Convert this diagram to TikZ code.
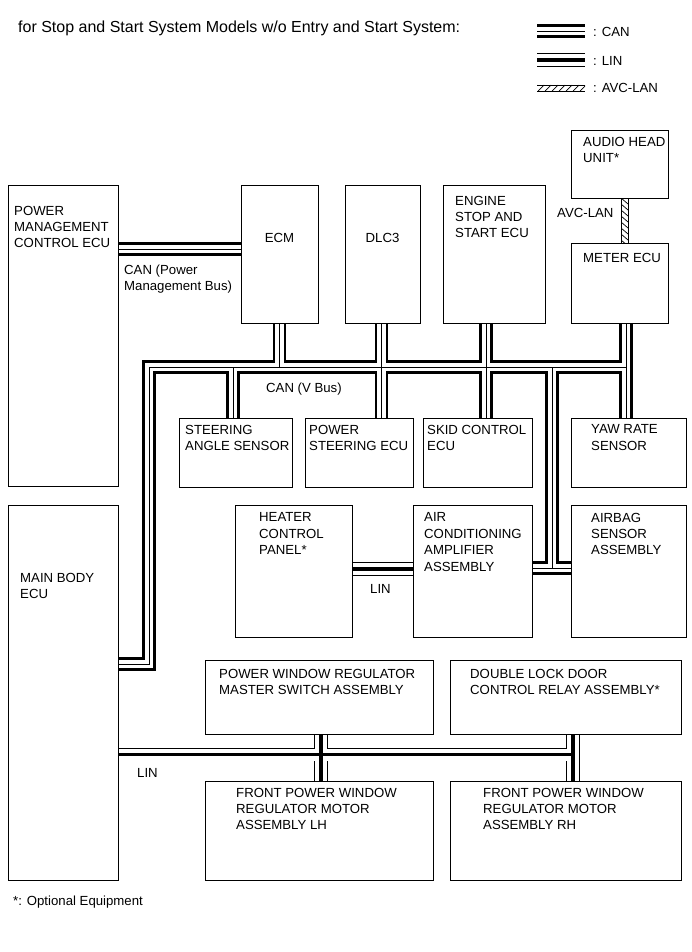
\documentclass[tikz,border=0pt]{standalone}
\usepackage{fontspec}
\setmainfont{Liberation Sans}
\usetikzlibrary{fit,backgrounds}
\newcommand\myfs{\fontsize{13.2}{16.4}\selectfont}
\newcommand\myts{\fontsize{16}{19}\selectfont}
\tikzset{
  box/.style={draw, line width=0.9pt, fill=white, inner sep=0pt},
  lbl/.style={inner sep=0pt, align=left, anchor=north west, font=\myfs, execute at begin node=\rule{0pt}{10pt}},
  clbl/.style={lbl, anchor=north, align=center},
  canA/.style={line width=13.6pt, black, line join=miter},
  canB/.style={line width=8.4pt, white, line join=miter},
  canC/.style={line width=0.8pt, black, line join=miter},
  linA/.style={line width=13.8pt, black, line join=miter},
  linB/.style={line width=12pt, white, line join=miter},
  linC/.style={line width=3.8pt, black, line join=miter},
  hatchbox/.style={draw, line width=0.8pt},
  hatchline/.style={line width=0.7pt},
}
\begin{document}
\begin{tikzpicture}[x=1pt,y=-1pt]
\useasboundingbox (0,0) rectangle (691,952);

% ---------- boxes ----------
\node[box, fit={(8,185) (118,486)}] (pmc) {};
\node[box, fit={(8,505) (118,880)}] (main) {};
\node[box, fit={(241,185) (318,323)}] (ecm) {};
\node[box, fit={(345,185) (420,323)}] (dlc) {};
\node[box, fit={(443,185) (545,323)}] (eng) {};
\node[box, fit={(571,130) (668,198)}] (audio) {};
\node[box, fit={(571,243) (668,323)}] (meter) {};
\node[box, fit={(179,418) (292,487)}] (steer) {};
\node[box, fit={(305,418) (413,487)}] (ps) {};
\node[box, fit={(423,418) (532,487)}] (skid) {};
\node[box, fit={(571,418) (686,487)}] (yaw) {};
\node[box, fit={(235,505) (352,637)}] (heater) {};
\node[box, fit={(413,505) (532,637)}] (ac) {};
\node[box, fit={(571,505) (686,637)}] (airbag) {};
\node[box, fit={(205,660) (433,734)}] (master) {};
\node[box, fit={(450,660) (681,734)}] (dbl) {};
\node[box, fit={(205,781) (433,880)}] (lh) {};
\node[box, fit={(450,781) (681,880)}] (rh) {};

% ---------- bus coordinates ----------
\coordinate (pm) at (0,249);
\coordinate (vL) at (149,367);
\coordinate (vR) at (626,367);
\coordinate (mb) at (149,664);
\coordinate (c5) at (381.5,367);
\coordinate (c6) at (486,367);
\coordinate (c7) at (233,367);
\coordinate (c8) at (552,367);
\coordinate (c8b) at (552,568);
\coordinate (hl) at (0,569);
\coordinate (lb) at (0,754.5);
\coordinate (l3) at (321,754.5);
\coordinate (l4) at (573,754.5);
\coordinate (lgC1) at (537,31);
\coordinate (lgC2) at (585,31);
\coordinate (lgL1) at (537,60);
\coordinate (lgL2) at (585,60);

\newcommand\canpaths[1]{%
  \draw[#1] (pm -| pmc.east) -- (pm -| ecm.west);
  \draw[#1] (mb -| main.east) -- (mb) -- (vL) -- (vR);
  \draw[#1] (vR |- meter.south) -- (vR |- yaw.north);
  \draw[#1] (ecm.south) -- (ecm.south |- vL);
  \draw[#1] (c5 |- dlc.south) -- (c5 |- ps.north);
  \draw[#1] (c6 |- eng.south) -- (c6 |- skid.north);
  \draw[#1] (c7) -- (c7 |- steer.north);
  \draw[#1] (c8) -- (c8b);
  \draw[#1] (c8b -| ac.east) -- (c8b -| airbag.west);
  \draw[#1] (lgC1) -- (lgC2);
}
\newcommand\linpaths[1]{%
  \draw[#1] (hl -| heater.east) -- (hl -| ac.west);
  \draw[#1] (lb -| main.east) -- (l4);
  \draw[#1] (l3 |- master.south) -- (l3 |- lh.north);
  \draw[#1] (l4 |- dbl.south) -- (l4 |- rh.north);
  \draw[#1] (lgL1) -- (lgL2);
}
\begin{pgfonlayer}{background}
  \fill[white] (0,0) rectangle (691,952);
  \canpaths{canA}
  \canpaths{canB}
  \canpaths{canC}
  \linpaths{linA}
  \linpaths{linB}
  \linpaths{linC}
\end{pgfonlayer}

% ---------- AVC-LAN ----------
\coordinate (av1) at (621,198);
\coordinate (av2) at (628,243);
\begin{scope}
  \clip (av1) rectangle (av2);
  \foreach \yy in {186,192,...,246} \draw[hatchline] (621,\yy) -- (628,\yy+6);
\end{scope}
\draw[hatchbox] (av1) rectangle (av2);
% legend AVC
\coordinate (lgA1) at (537,85);
\coordinate (lgA2) at (585,91);
\begin{scope}
  \clip (lgA1) rectangle (lgA2);
  \foreach \xx in {531,538,...,592} \draw[hatchline] (\xx,91) -- (\xx+6,85);
\end{scope}
\draw[line width=0.8pt] (lgA1) -- (lgA1 -| lgA2) (lgA1 |- lgA2) -- (lgA2);

% ---------- texts ----------
\node[lbl, font=\myts] (title) at (18,20.5) {for Stop and Start System Models w/o Entry and Start System:};
\node[lbl] (lg1) at (593,26.65) {: CAN};
\node[lbl] (lg2) at (593,55.65) {: LIN};
\node[lbl] (lg3) at (593,82.65) {: AVC-LAN};

\node[lbl] (tpmc) at (14,205.65) {POWER\\MANAGEMENT\\CONTROL ECU};
\node[lbl] (tmain) at (20,572.65) {MAIN BODY\\ECU};
\node[clbl] (tecm) at (279.5,232.65) {ECM};
\node[clbl] (tdlc) at (382.5,232.65) {DLC3};
\node[lbl] (teng) at (455,195.65) {ENGINE\\STOP AND\\START ECU};
\node[lbl] (taudio) at (583,136.65) {AUDIO HEAD\\UNIT*};
\node[lbl] (tmeter) at (583,252.65) {METER ECU};
\node[lbl] (tavc) at (557,207.65) {AVC-LAN};
\node[lbl] (tcanpm) at (124,264.65) {CAN (Power\\Management Bus)};
\node[lbl] (tcanv) at (266,382.65) {CAN (V Bus)};
\node[lbl] (tsteer) at (185,424.65) {STEERING\\ANGLE SENSOR};
\node[lbl] (tps) at (309,424.65) {POWER\\STEERING ECU};
\node[lbl] (tskid) at (427,424.65) {SKID CONTROL\\ECU};
\node[lbl] (tyaw) at (591,424.65) {YAW RATE\\SENSOR};
\node[lbl] (theat) at (259,512.65) {HEATER\\CONTROL\\PANEL*};
\node[lbl] (tac) at (424,512.65) {AIR\\CONDITIONING\\AMPLIFIER\\ASSEMBLY};
\node[lbl] (tair) at (591,512.65) {AIRBAG\\SENSOR\\ASSEMBLY};
\node[lbl] (tlin1) at (370,583.65) {LIN};
\node[lbl] (tmaster) at (219,668.65) {POWER WINDOW REGULATOR\\MASTER SWITCH ASSEMBLY};
\node[lbl] (tdbl) at (470,668.65) {DOUBLE LOCK DOOR\\CONTROL RELAY ASSEMBLY*};
\node[lbl] (tlin2) at (137,767.65) {LIN};
\node[lbl] (tlh) at (236,787.65) {FRONT POWER WINDOW\\REGULATOR MOTOR\\ASSEMBLY LH};
\node[lbl] (trh) at (483,787.65) {FRONT POWER WINDOW\\REGULATOR MOTOR\\ASSEMBLY RH};
\node[lbl] (tfoot) at (13,895.65) {*: Optional Equipment};
\end{tikzpicture}
\end{document}
